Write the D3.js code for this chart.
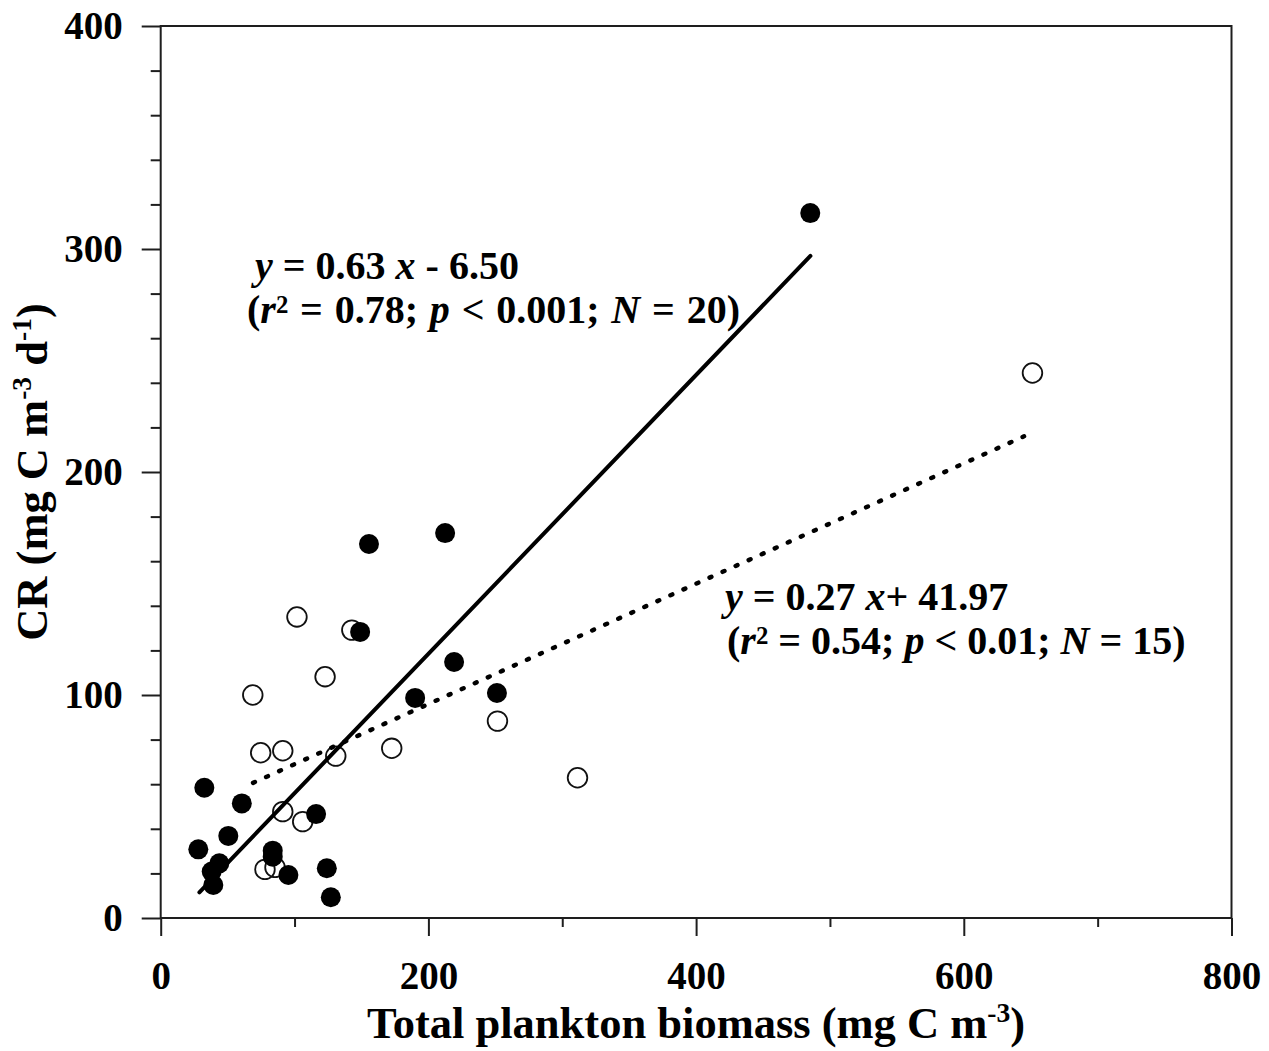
<!DOCTYPE html>
<html>
<head>
<meta charset="utf-8">
<script src="https://cdn.jsdelivr.net/npm/d3@7"></script>
<style>
body { margin: 0; background: #fff; }
svg text { font-family: "Liberation Serif", "Times New Roman", serif; font-weight: bold; fill: #000; }
</style>
</head>
<body>
<div id="chart"></div>
<script>
// filled circles (N = 20)
const filledX = [485.3, 212.5, 155.6, 149.0, 219.2, 190.1, 251.2, 32.6, 60.6, 116.1,
                 50.5, 28.1, 83.7, 83.7, 43.8, 38.1, 39.3, 95.4, 124.1, 127.1];
const filledY = [316.1, 172.6, 167.7, 128.3, 114.8, 98.7, 100.9, 58.4, 51.4, 46.6,
                 36.8, 30.8, 30.2, 27.5, 24.5, 20.8, 14.8, 19.3, 22.3, 9.3];

// open circles (N = 15)
const openX = [651.3, 101.8, 142.8, 122.8, 68.8, 74.7, 91.2, 130.8, 172.6, 91.2,
               106.1, 77.9, 85.4, 251.6, 311.4];
const openY = [244.4, 135.0, 129.1, 108.2, 100.0, 74.1, 75.0, 72.6, 76.1, 47.7,
               43.2, 21.8, 22.7, 88.3, 62.9];

// regression line end points
const solidFitX = [28.9, 485.4];
const solidFitY = [11.5, 296.9];
const dottedFitX = [69, 645];
const dottedFitY = [60.6, 216];

const xTicks = [0, 200, 400, 600, 800];
const xMinor = [100, 300, 500, 700];
const yTicks = [0, 100, 200, 300, 400];
const yMinor = [20, 40, 60, 80, 120, 140, 160, 180, 220, 240, 260, 280, 320, 340, 360, 380];

const W = 1269, H = 1051;
const plotL = 160.7, plotR = 1231.5, plotT = 26, plotB = 918;

const svg = d3.select("#chart").append("svg")
  .attr("width", W)
  .attr("height", H);

svg.append("rect").attr("width", W).attr("height", H).attr("fill", "#fff");

const x = d3.scaleLinear().domain([0, 800]).range([plotL, plotR]);
const y = d3.scaleLinear().domain([0, 400]).range([plotB, plotT]);

function styleAxis(g) {
  g.select(".domain").remove();
  g.selectAll(".tick line").attr("stroke", "#1e1e1e").attr("stroke-width", 2);
  g.selectAll(".tick text").style("font-size", "39px").attr("fill", "#000");
}

// x axis
svg.append("g")
  .attr("transform", `translate(0, ${plotB})`)
  .call(d3.axisBottom(x).tickValues(xTicks).tickSize(18).tickPadding(25).tickFormat(d3.format("d")))
  .call(styleAxis);
svg.append("g")
  .attr("transform", `translate(0, ${plotB})`)
  .call(d3.axisBottom(x).tickValues(xMinor).tickSize(9).tickFormat(""))
  .call(styleAxis);

// y axis
svg.append("g")
  .attr("transform", `translate(${plotL}, 0)`)
  .call(d3.axisLeft(y).tickValues(yTicks).tickSize(19).tickPadding(19).tickFormat(d3.format("d")))
  .call(styleAxis);
svg.append("g")
  .attr("transform", `translate(${plotL}, 0)`)
  .call(d3.axisLeft(y).tickValues(yMinor).tickSize(10).tickFormat(""))
  .call(styleAxis);

// frame
svg.append("rect")
  .attr("x", plotL).attr("y", plotT)
  .attr("width", plotR - plotL).attr("height", plotB - plotT)
  .attr("fill", "none")
  .attr("stroke", "#1e1e1e")
  .attr("stroke-width", 2);

// open circles
svg.append("g").selectAll("circle")
  .data(openX.map((d, i) => [d, openY[i]]))
  .enter().append("circle")
  .attr("cx", d => x(d[0]))
  .attr("cy", d => y(d[1]))
  .attr("r", 9.8)
  .attr("fill", "none")
  .attr("stroke", "#111")
  .attr("stroke-width", 1.8);

// filled circles
svg.append("g").selectAll("circle")
  .data(filledX.map((d, i) => [d, filledY[i]]))
  .enter().append("circle")
  .attr("cx", d => x(d[0]))
  .attr("cy", d => y(d[1]))
  .attr("r", 10)
  .attr("fill", "#000");

// regression lines
const line = d3.line().x(d => x(d[0])).y(d => y(d[1]));
svg.append("path")
  .datum(solidFitX.map((d, i) => [d, solidFitY[i]]))
  .attr("d", line)
  .attr("fill", "none")
  .attr("stroke", "#000")
  .attr("stroke-width", 4)
  .attr("stroke-linecap", "round");
svg.append("path")
  .datum(dottedFitX.map((d, i) => [d, dottedFitY[i]]))
  .attr("d", line)
  .attr("fill", "none")
  .attr("stroke", "#000")
  .attr("stroke-width", 4.5)
  .attr("stroke-linecap", "round")
  .attr("stroke-dasharray", "2,12.3");

// rich text helper: lines of segments with italic / superscript, one <text> element
function richText(px, py, size, lines, attrs, rise) {
  const t = svg.append("text")
    .attr("x", px[0]).attr("y", py[0])
    .style("font-size", size + "px");
  if (attrs) Object.entries(attrs).forEach(([k, v]) => t.attr(k, v));
  const lift = size * (rise || 0.36);
  lines.forEach((segs, li) => {
    let shifted = 0;
    segs.forEach((s, si) => {
      const sp = t.append("tspan").text(s.t);
      if (si === 0 && li > 0) sp.attr("x", px[li]).attr("y", py[li]);
      if (s.i) sp.style("font-style", "italic");
      if (s.ws) sp.attr("word-spacing", s.ws);
      if (s.sup) {
        sp.style("font-size", (size * 0.62) + "px").attr("dy", -lift);
        shifted = lift;
      } else if (shifted) {
        sp.attr("dy", shifted);
        shifted = 0;
      }
    });
  });
  return t;
}

// annotations
richText([255, 247], [279, 323], 40, [
  [{t: "y", i: true}, {t: " = 0.63 "}, {t: "x", i: true}, {t: " - 6.50"}],
  [{t: "("}, {t: "r", i: true}, {t: "2", sup: true}, {t: " = 0.78; ", ws: "1.8px"},
   {t: "p", i: true}, {t: " < 0.001; ", ws: "1.8px"}, {t: "N", i: true}, {t: " = 20)", ws: "1.8px"}]
], null, 0.24);
richText([725, 727], [610, 654], 40, [
  [{t: "y", i: true}, {t: " = 0.27 "}, {t: "x", i: true}, {t: "+ 41.97"}],
  [{t: "("}, {t: "r", i: true}, {t: "2", sup: true}, {t: " = 0.54; "},
   {t: "p", i: true}, {t: " < 0.01; "}, {t: "N", i: true}, {t: " = 15)"}]
], null, 0.24);

// axis titles
richText([(plotL + plotR) / 2], [1038], 44.5, [[{t: "Total plankton biomass (mg C m"}, {t: "-3", sup: true}, {t: ")"}]],
  {"text-anchor": "middle"});
richText([0], [0], 44.5, [[{t: "CR (mg C m"}, {t: "-3", sup: true}, {t: " d"}, {t: "-1", sup: true}, {t: ")"}]],
  {"text-anchor": "middle", "transform": `translate(47, ${(plotT + plotB) / 2}) rotate(-90)`});
</script>
</body>
</html>
